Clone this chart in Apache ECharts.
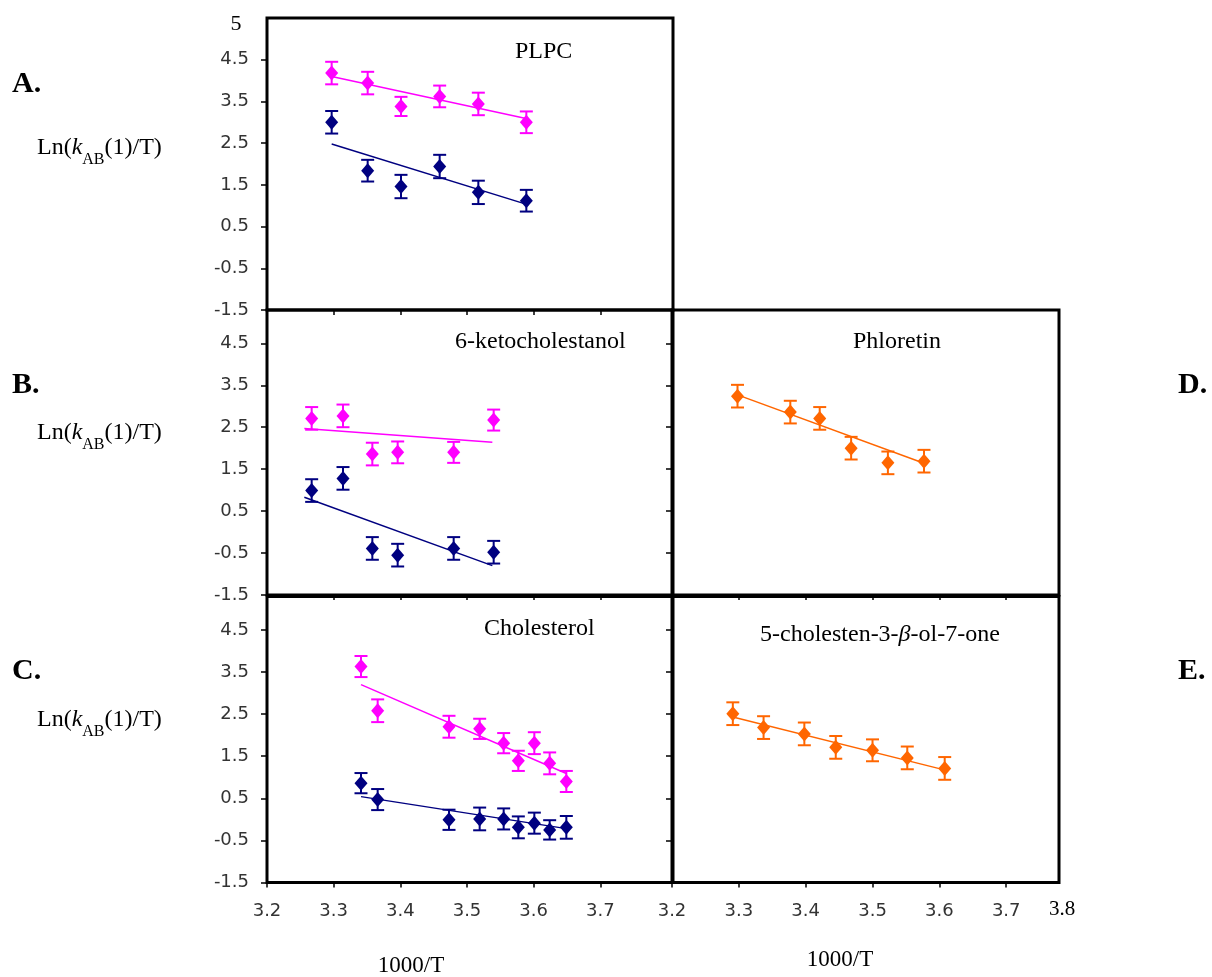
<!DOCTYPE html>
<html>
<head>
<meta charset="utf-8">
<script src="https://cdn.jsdelivr.net/npm/echarts@6/dist/echarts.min.js"></script>
<style>
html,body{margin:0;padding:0;background:#fff;}
#main{width:1212px;height:977px;}
</style>
</head>
<body>
<div id="main"></div>
<script>
// ---- tick labels ----
const xTicks = [3.2, 3.3, 3.4, 3.5, 3.6, 3.7];
const yTicks = [-1.5, -0.5, 0.5, 1.5, 2.5, 3.5, 4.5];

// ---- Panel A: PLPC ----
const plpcX      = [3.297, 3.351, 3.401, 3.459, 3.517, 3.589];
const plpcPink   = [4.18, 3.94, 3.38, 3.62, 3.44, 3.00];
const plpcPinkE  = [0.27, 0.27, 0.23, 0.26, 0.27, 0.26];
const plpcNavy   = [3.00, 1.84, 1.46, 1.94, 1.32, 1.12];
const plpcNavyE  = [0.27, 0.26, 0.28, 0.28, 0.28, 0.26];
const plpcTrendX = [3.297, 3.592];
const plpcPinkT  = [4.10, 3.08];
const plpcNavyT  = [2.48, 1.02];

// ---- Panel B: 6-ketocholestanol ----
const ketoX      = [3.267, 3.314, 3.358, 3.396, 3.480, 3.540];
const ketoPink   = [2.71, 2.77, 1.86, 1.90, 1.90, 2.67];
const ketoPinkE  = [0.27, 0.27, 0.27, 0.26, 0.25, 0.25];
const ketoNavy   = [0.99, 1.28, -0.39, -0.55, -0.39, -0.48];
const ketoNavyE  = [0.27, 0.27, 0.27, 0.27, 0.27, 0.27];
const ketoTrendX = [3.256, 3.538];
const ketoPinkT  = [2.47, 2.14];
const ketoNavyT  = [0.83, -0.80];

// ---- Panel C: Cholesterol ----
const cholX      = [3.341, 3.366, 3.473, 3.519, 3.555, 3.577, 3.601, 3.624, 3.649];
const cholPink   = [3.63, 2.58, 2.20, 2.15, 1.81, 1.39, 1.81, 1.33, 0.90];
const cholPinkE  = [0.25, 0.27, 0.26, 0.24, 0.24, 0.24, 0.26, 0.26, 0.25];
const cholNavy   = [0.86, 0.47, -0.01, 0.01, 0.01, -0.19, -0.09, -0.25, -0.19];
const cholNavyE  = [0.24, 0.25, 0.24, 0.27, 0.25, 0.26, 0.25, 0.23, 0.27];
const cholTrendX = [3.341, 3.649];
const cholPinkT  = [3.20, 1.09];
const cholNavyT  = [0.54, -0.22];

// ---- Panel D: Phloretin ----
const phloX      = [3.298, 3.377, 3.421, 3.468, 3.523, 3.577];
const phloY      = [3.24, 2.86, 2.71, 2.00, 1.65, 1.69];
const phloE      = [0.27, 0.27, 0.27, 0.27, 0.27, 0.27];
const phloTrendX = [3.298, 3.577];
const phloT      = [3.27, 1.64];

// ---- Panel E: 5-cholesten-3-beta-ol-7-one ----
const cholenX      = [3.291, 3.337, 3.398, 3.445, 3.500, 3.552, 3.608];
const cholenY      = [2.51, 2.18, 2.03, 1.71, 1.64, 1.46, 1.21];
const cholenE      = [0.27, 0.27, 0.27, 0.27, 0.26, 0.27, 0.27];
const cholenTrendX = [3.291, 3.609];
const cholenT      = [2.43, 1.17];

const PINK = '#FF00FF', NAVY = '#000080', ORANGE = '#FF6600';
const TICKFONT = 'DejaVu Sans';
const SERIF = 'Liberation Serif';

const grids = [
  {left:267, top:18,    width:406, height:292},
  {left:267, top:310,   width:406, height:285},
  {left:267, top:596.5, width:406, height:286},
  {left:672, top:310,   width:387, height:285},
  {left:672, top:596.5, width:387, height:286}
].map(g => Object.assign(g, {show:true, borderWidth:3, borderColor:'#000', backgroundColor:'rgba(0,0,0,0)'}));

const xMax = [3.809, 3.809, 3.809, 3.779, 3.779];
const yMax = [5.5, 5.294, 5.294, 5.294, 5.294];
const showX = [false, false, true, false, true];
const showY = [true, true, true, false, false];

const xAxes = grids.map((g, i) => ({
  type:'value', gridIndex:i, min:3.2, max:xMax[i], position:'bottom',
  axisLine:{show:false, onZero:false}, splitLine:{show:false},
  axisTick:{show:true, customValues:xTicks, length:5, lineStyle:{color:'#000', width:1.5}},
  axisLabel:{show:showX[i], customValues:xTicks, formatter:v => v.toFixed(1), margin:20,
             fontFamily:TICKFONT, fontSize:18, color:'#333'}
}));
const yAxes = grids.map((g, i) => ({
  type:'value', gridIndex:i, min:-1.5, max:yMax[i], position:'left',
  axisLine:{show:false, onZero:false}, splitLine:{show:false},
  axisTick:{show:true, customValues:yTicks, length:6, lineStyle:{color:'#000', width:1.5}},
  axisLabel:{show:showY[i], customValues:yTicks, formatter:v => v.toFixed(1), margin:18,
             fontFamily:TICKFONT, fontSize:18, color:'#333'}
}));

function pts(xs, ys){ return xs.map((x, i) => [x, ys[i]]); }

function errSeries(gi, xs, ys, es, color){
  return {
    type:'custom', xAxisIndex:gi, yAxisIndex:gi, z:3, silent:true,
    encode:{x:0, y:1},
    data: xs.map((x, i) => [x, ys[i], es[i]]),
    renderItem: function(params, api){
      const x = api.value(0), y = api.value(1), e = api.value(2);
      const t = api.coord([x, y + e]);
      const b = api.coord([x, y - e]);
      const w = 6.5;
      const st = {stroke:color, lineWidth:2};
      return {type:'group', children:[
        {type:'line', shape:{x1:t[0], y1:t[1], x2:b[0], y2:b[1]}, style:st},
        {type:'line', shape:{x1:t[0]-w, y1:t[1], x2:t[0]+w, y2:t[1]}, style:st},
        {type:'line', shape:{x1:b[0]-w, y1:b[1], x2:b[0]+w, y2:b[1]}, style:st}
      ]};
    }
  };
}
function scatSeries(gi, xs, ys, color){
  return {type:'scatter', xAxisIndex:gi, yAxisIndex:gi, z:4, silent:true,
    symbol:'diamond', symbolSize:[13, 15], itemStyle:{color:color, opacity:1},
    data: pts(xs, ys)};
}
function trendSeries(gi, xs, ys, color){
  return {type:'line', xAxisIndex:gi, yAxisIndex:gi, z:2, silent:true,
    showSymbol:false, symbol:'none', lineStyle:{color:color, width:1.5},
    data: pts(xs, ys)};
}

const series = [
  trendSeries(0, plpcTrendX, plpcPinkT, PINK), trendSeries(0, plpcTrendX, plpcNavyT, NAVY),
  errSeries(0, plpcX, plpcPink, plpcPinkE, PINK), errSeries(0, plpcX, plpcNavy, plpcNavyE, NAVY),
  scatSeries(0, plpcX, plpcPink, PINK), scatSeries(0, plpcX, plpcNavy, NAVY),

  trendSeries(1, ketoTrendX, ketoPinkT, PINK), trendSeries(1, ketoTrendX, ketoNavyT, NAVY),
  errSeries(1, ketoX, ketoPink, ketoPinkE, PINK), errSeries(1, ketoX, ketoNavy, ketoNavyE, NAVY),
  scatSeries(1, ketoX, ketoPink, PINK), scatSeries(1, ketoX, ketoNavy, NAVY),

  trendSeries(2, cholTrendX, cholPinkT, PINK), trendSeries(2, cholTrendX, cholNavyT, NAVY),
  errSeries(2, cholX, cholPink, cholPinkE, PINK), errSeries(2, cholX, cholNavy, cholNavyE, NAVY),
  scatSeries(2, cholX, cholPink, PINK), scatSeries(2, cholX, cholNavy, NAVY),

  trendSeries(3, phloTrendX, phloT, ORANGE),
  errSeries(3, phloX, phloY, phloE, ORANGE),
  scatSeries(3, phloX, phloY, ORANGE),

  trendSeries(4, cholenTrendX, cholenT, ORANGE),
  errSeries(4, cholenX, cholenY, cholenE, ORANGE),
  scatSeries(4, cholenX, cholenY, ORANGE)
];

function txt(x, y, text, opts){
  return {type:'text', x:x, y:y, z:10, silent:true,
    style:Object.assign({text:text, fill:'#000', fontFamily:SERIF, fontSize:22,
      align:'left', verticalAlign:'middle'}, opts || {})};
}
const lnRich = {
  n:{fontFamily:SERIF, fontSize:24, lineHeight:28, verticalAlign:'middle', fill:'#000'},
  i:{fontFamily:SERIF, fontSize:24, fontStyle:'italic', lineHeight:28, verticalAlign:'middle', fill:'#000'},
  s:{fontFamily:SERIF, fontSize:16, lineHeight:28, verticalAlign:'bottom', padding:[0,0,-6,0], fill:'#000'}
};
function lnLabel(y){
  return {type:'text', x:37, y:y, z:10, silent:true,
    style:{text:'{n|Ln(}{i|k}{s|AB}{n|(1)/T)}', rich:lnRich, align:'left', verticalAlign:'middle'}};
}

const graphics = [
  txt(12, 84, 'A.', {fontWeight:'bold', fontSize:30}),
  txt(12, 385, 'B.', {fontWeight:'bold', fontSize:30}),
  txt(12, 671, 'C.', {fontWeight:'bold', fontSize:30}),
  txt(1178, 385, 'D.', {fontWeight:'bold', fontSize:30}),
  txt(1178, 671, 'E.', {fontWeight:'bold', fontSize:30}),
  lnLabel(148), lnLabel(433), lnLabel(720),
  txt(515, 52, 'PLPC', {fontSize:24}),
  txt(455, 342, '6-ketocholestanol', {fontSize:24}),
  txt(853, 342, 'Phloretin', {fontSize:24}),
  txt(484, 629, 'Cholesterol', {fontSize:24}),
  {type:'text', x:760, y:635, z:10, silent:true,
    style:{text:'{n|5-cholesten-3-}{i|β}{n|-ol-7-one}', align:'left', verticalAlign:'middle',
      rich:{n:{fontFamily:SERIF, fontSize:24, fill:'#000'},
            i:{fontFamily:SERIF, fontSize:24, fontStyle:'italic', fill:'#000'}}}},
  txt(236, 24, '5', {fontSize:22, align:'center'}),
  txt(1062, 909, '3.8', {fontSize:21, align:'center'}),
  txt(411, 966, '1000/T', {fontSize:23, align:'center'}),
  txt(840, 960, '1000/T', {fontSize:23, align:'center'})
];

const chart = echarts.init(document.getElementById('main'), null, {renderer:'canvas'});
chart.setOption({
  backgroundColor:'#fff',
  animation:false,
  grid:grids,
  xAxis:xAxes,
  yAxis:yAxes,
  series:series,
  graphic:graphics
});
</script>
</body>
</html>
